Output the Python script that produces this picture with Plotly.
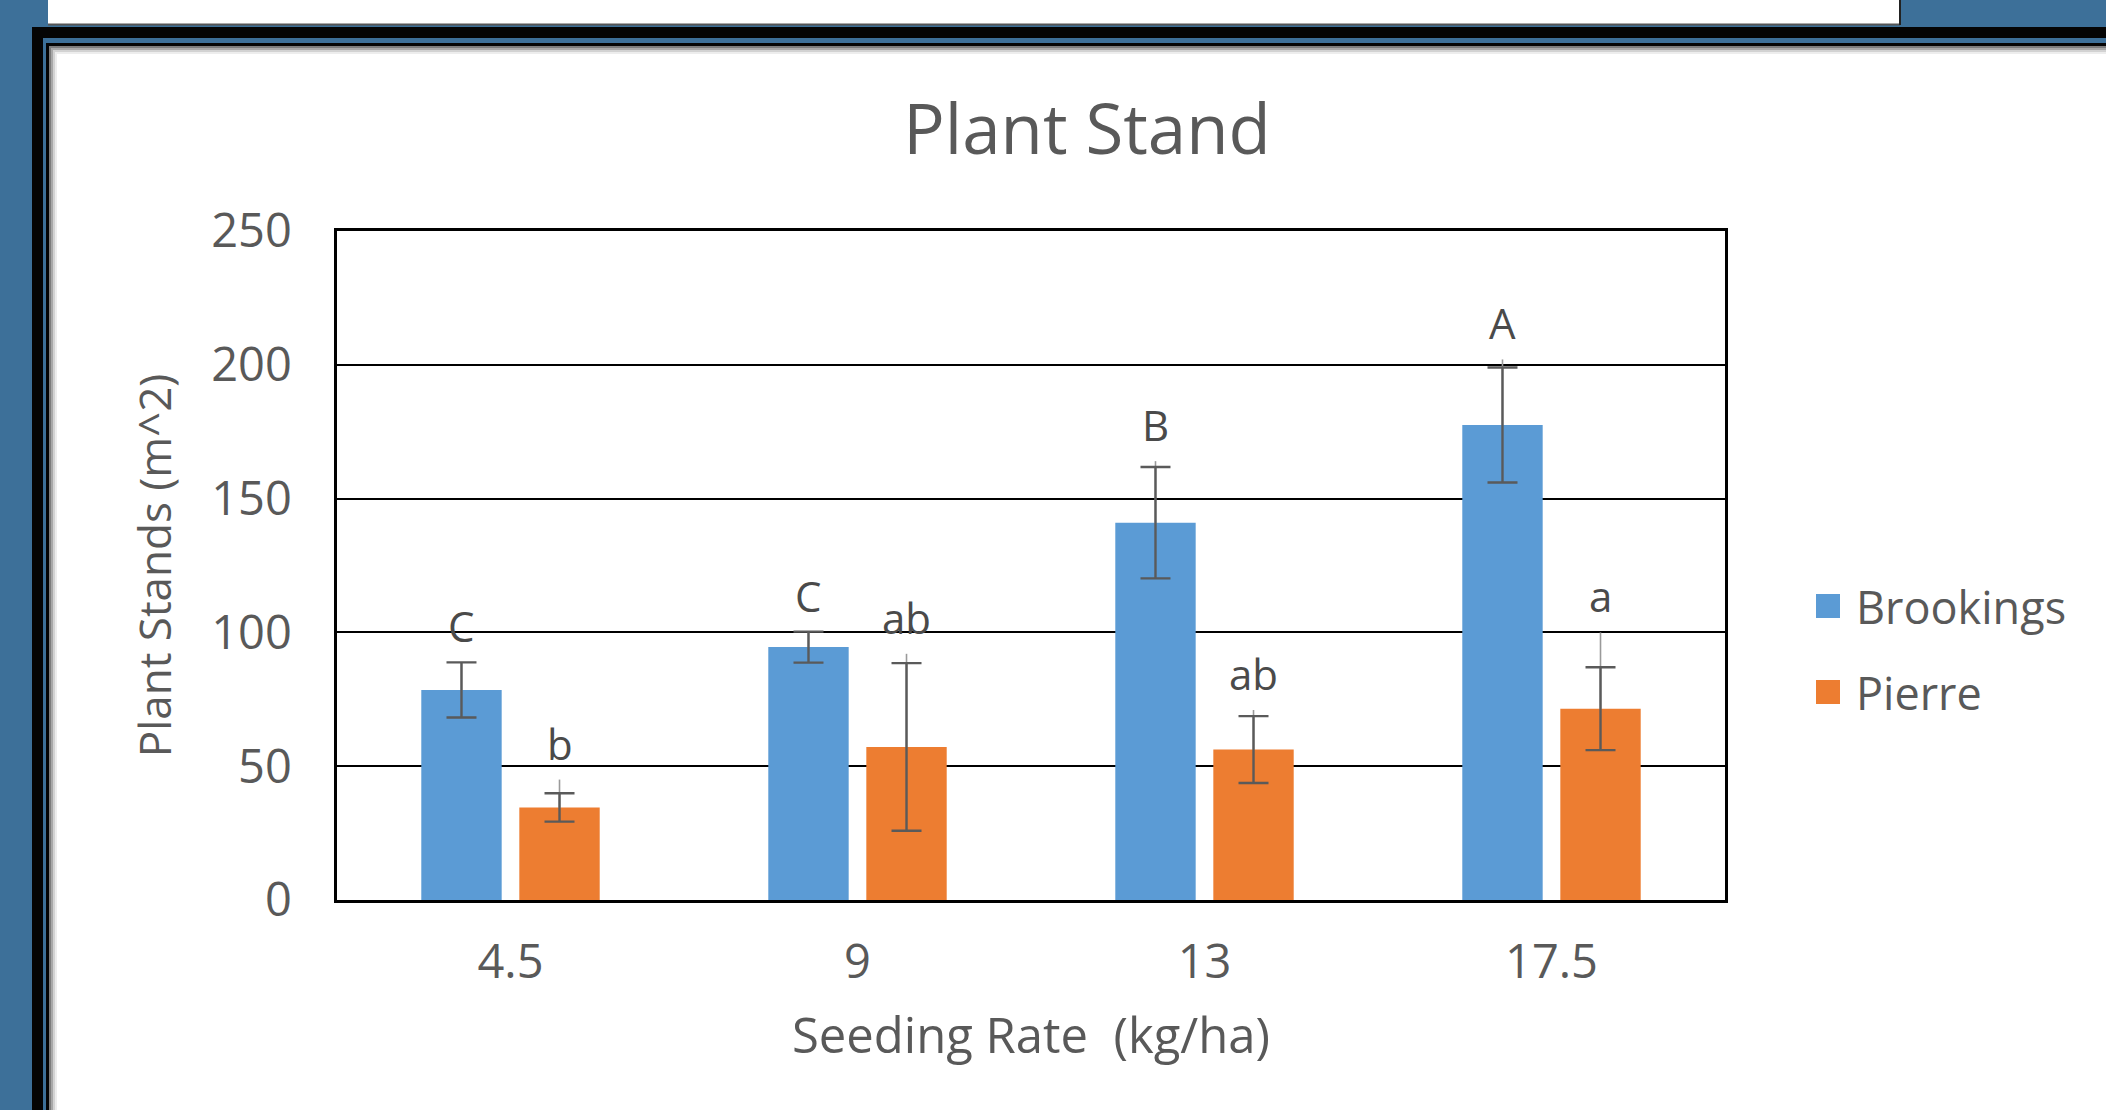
import plotly.graph_objects as go

# ---------------- data ----------------
categories = ["4.5", "9", "13", "17.5"]
brookings = [78.5, 94.5, 141.0, 177.5]
brookings_err = [10.3, 5.8, 20.8, 21.5]
brookings_reach = [88.8, 100.3, 164.0, 202.0]   # top of the thin whisker line
brookings_letters = ["C", "C", "B", "A"]

pierre = [34.6, 57.2, 56.2, 71.5]
pierre_err = [5.3, 31.3, 12.5, 15.5]
pierre_reach = [45.0, 92.0, 71.0, 100.0]
pierre_letters = ["b", "ab", "ab", "a"]

y_ticks = [0, 50, 100, 150, 200, 250]

# ---------------- layout geometry ----------------
W, H = 2106, 1110
L, R, T, B = 337, 381, 231, 210
PW, PH = W - L - R, H - T - B
BARGAP = 0.435
BARGROUPGAP = 0.18


def px(x):
    return (x - L) / PW


def py(y):
    return (H - B - y) / PH


BLUE = "#5B9BD5"
ORANGE = "#ED7D31"
TXT = "#595959"
ERR = "#5a5a5a"
FONT = "Open Sans"

fig = go.Figure()

# thin whisker extensions (drawn first, underneath)
for name, vals, reach, grp in [("Brookings", brookings, brookings_reach, "b"),
                                ("Pierre", pierre, pierre_reach, "p")]:
    fig.add_trace(go.Bar(
        x=categories, y=vals, offsetgroup=grp, showlegend=False,
        marker=dict(color="rgba(0,0,0,0)", line=dict(width=0)),
        hoverinfo="skip",
        error_y=dict(type="data", symmetric=False,
                     array=[r - v for r, v in zip(reach, vals)],
                     arrayminus=[0] * len(vals),
                     color="#9a9a9a", thickness=1.6, width=0),
    ))

for name, vals, err, col, grp in [("Brookings", brookings, brookings_err, BLUE, "b"),
                                   ("Pierre", pierre, pierre_err, ORANGE, "p")]:
    fig.add_trace(go.Bar(
        x=categories, y=vals, name=name, offsetgroup=grp, showlegend=False,
        marker=dict(color=col, line=dict(width=0)),
        error_y=dict(type="data", array=err, color=ERR, thickness=2.4, width=15),
    ))

# letter annotations (x given as category index, shifted to each bar's slot)
slot_px = PW / len(categories) * (1 - BARGAP) / 2
annotations = []
for letters, reach, shift in [(brookings_letters, brookings_reach, -slot_px / 2),
                              (pierre_letters, pierre_reach, slot_px / 2)]:
    for i, (lab, r) in enumerate(zip(letters, reach)):
        annotations.append(dict(x=i, y=r, text=lab, showarrow=False, xref="x", yref="y",
                                xshift=shift, yshift=6, yanchor="bottom",
                                font=dict(family=FONT, size=42, color="#4a4a4a")))

# manual legend
legend_items = [("Brookings", BLUE, 606), ("Pierre", ORANGE, 692)]
shapes = []

# page frame (blue background, black / blue borders, shadowed white chart area)
frame = [
    ((32, 27), "#050505"),
    ((43, 38), "#3D7099"),
    ((46, 43), "#050505"),
    ((49, 46), "#7d7d7d"),
    ((51, 48), "#a8a8a8"),
    ((53, 50), "#d2d2d2"),
    ((55, 52), "#ededed"),
    ((57, 54), "#ffffff"),
]
for (x0, y0), col in frame:
    shapes.append(dict(type="rect", xref="paper", yref="paper", layer="below",
                       x0=px(x0), y0=py(H + 20), x1=px(W + 20), y1=py(y0),
                       fillcolor=col, line=dict(width=0)))
# top caption strip
shapes.append(dict(type="rect", xref="paper", yref="paper", layer="below",
                   x0=px(48), y0=py(25), x1=px(1900), y1=py(-10),
                   fillcolor="#ffffff", line=dict(width=0)))
shapes.append(dict(type="line", xref="paper", yref="paper", layer="below",
                   x0=px(48), y0=py(24.5), x1=px(1900), y1=py(24.5),
                   line=dict(color="#555555", width=2)))
shapes.append(dict(type="line", xref="paper", yref="paper", layer="below",
                   x0=px(1900), y0=py(0), x1=px(1900), y1=py(25),
                   line=dict(color="#222222", width=2)))

for name, col, cy in legend_items:
    shapes.append(dict(type="rect", xref="paper", yref="paper",
                       x0=px(1816), x1=px(1840), y0=py(cy + 12), y1=py(cy - 12),
                       fillcolor=col, line=dict(width=0)))
    annotations.append(dict(x=px(1854), y=py(cy), xref="paper", yref="paper",
                            text=name, showarrow=False, xanchor="left", yanchor="middle",
                            font=dict(family=FONT, size=45, color=TXT)))

fig.update_layout(
    width=W, height=H,
    margin=dict(l=L, r=R, t=T, b=B, pad=0),
    paper_bgcolor="#3D7099",
    plot_bgcolor="#ffffff",
    barmode="group", bargap=BARGAP, bargroupgap=BARGROUPGAP,
    showlegend=False,
    title=dict(text="Plant Stand", x=1087 / W, xanchor="center", xref="container",
               y=1 - 130 / H, yanchor="middle", yref="container",
               font=dict(family=FONT, size=69, color=TXT)),
    font=dict(family=FONT, color=TXT),
    shapes=shapes,
    annotations=annotations,
)

fig.update_xaxes(
    type="category", categoryorder="array", categoryarray=categories,
    range=[-0.5, len(categories) - 0.5],
    showline=True, linecolor="#000000", linewidth=2.5, mirror=True,
    showgrid=False, ticks="", ticklabelstandoff=19,
    tickfont=dict(family=FONT, size=47, color=TXT),
    title=dict(text="Seeding Rate\u00a0 (kg/ha)", standoff=28,
               font=dict(family=FONT, size=49, color=TXT)),
)
fig.update_yaxes(
    range=[0, 250], tickvals=y_ticks,
    showline=True, linecolor="#000000", linewidth=2.5, mirror=True,
    showgrid=True, gridcolor="#000000", gridwidth=2, zeroline=False,
    ticks="", ticklabelstandoff=33,
    tickfont=dict(family=FONT, size=47, color=TXT),
    title=dict(text="Plant Stands (m^2)", standoff=26,
               font=dict(family=FONT, size=44, color=TXT)),
)

fig.write_html("out.html", config={"displayModeBar": False},
               post_script="document.body.style.margin='0px';")
